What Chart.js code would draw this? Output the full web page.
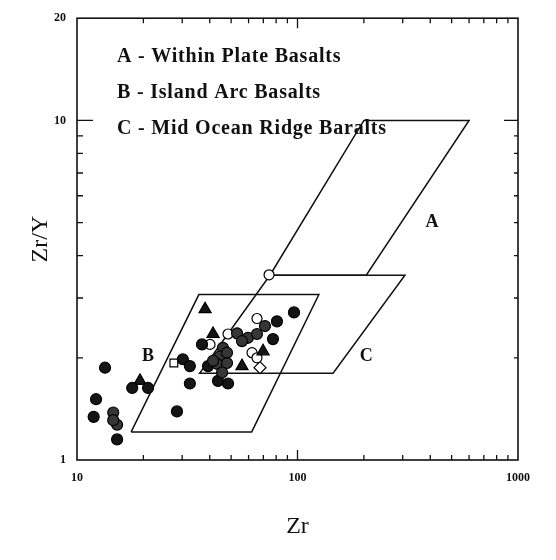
<!DOCTYPE html>
<html>
<head>
<meta charset="utf-8">
<script src="https://cdn.jsdelivr.net/npm/chart.js@4.4.1/dist/chart.umd.min.js"></script>
<style>
  body { margin: 0; background: #fff; }
  canvas { display: block; }
</style>
</head>
<body>
<canvas id="Chart" width="556" height="560"></canvas>
<script>
'use strict';
// ********************* DATA (Zr, Zr/Y) *********************

const fieldA = [[75, 3.5], [200, 10], [600, 10], [205, 3.5]];
const fieldB = [[17.6, 1.21], [62, 1.21], [125, 3.07], [35.7, 3.07]];
const fieldC = [[75, 3.5], [307, 3.5], [145, 1.8], [36, 1.8]];

const filledCircles = [
  [13.4, 1.87], [12.2, 1.51], [11.9, 1.34], [15.2, 1.15], [28.4, 1.39],
  [32.5, 1.68], [43.6, 1.71], [48.4, 1.68], [30.2, 1.98], [32.5, 1.89],
  [36.9, 2.19], [80.7, 2.56], [96.4, 2.72], [77.4, 2.27], [39.3, 1.89],
  [17.8, 1.63], [21.0, 1.63]
];
const stippledCircles = [
  [14.6, 1.38], [15.2, 1.27], [14.6, 1.31], [45.9, 2.14], [44.5, 2.02],
  [47.9, 2.07], [43.1, 1.92], [47.9, 1.93], [45.5, 1.81], [53.2, 2.36],
  [59.6, 2.29], [56.0, 2.24], [65.5, 2.35], [71.2, 2.48], [41.4, 1.96]
];
const filledTriangles = [
  [38.1, 2.78], [41.4, 2.35], [69.8, 2.09], [56.0, 1.89], [19.3, 1.71], [45.9, 2.01]
];
const openCircles = [
  [74.3, 3.51], [40.1, 2.19], [48.4, 2.35], [65.5, 2.61], [62.2, 2.07], [65.5, 2.0]
];
const openSquares = [[27.5, 1.93]];
const openDiamonds = [[67.6, 1.87]];

const xTickLabels = [10, 100, 1000];
const yTickLabels = [1, 10, 20];
const xMinorTicks = [20, 30, 40, 50, 60, 70, 80, 90, 100, 200, 300, 400, 500, 600, 700, 800, 900];
const yMinorTicks = [2, 3, 4, 5, 6, 7, 8, 9, 10];

const fieldLabels = [['A', 407, 5.0], ['B', 21, 2.02], ['C', 205, 2.02]];
const legendLines = [
  'A - Within Plate Basalts',
  'B - Island Arc Basalts',
  'C - Mid Ocean Ridge Baralts'
];

// ********************* HELPERS *********************

const SERIF = '"Liberation Serif", "Times New Roman", serif';

function toPoints(arr) {
  return arr.map(p => ({ x: p[0], y: p[1] }));
}

function fieldSet(arr) {
  const pts = toPoints(arr);
  pts.push(pts[0]);
  return {
    data: pts, showLine: true, fill: false, pointRadius: 0,
    borderColor: '#111', borderWidth: 1.5, order: 10
  };
}

function markerSet(arr, style, radius, bg) {
  return {
    data: toPoints(arr), showLine: false, pointStyle: style, pointRadius: radius,
    backgroundColor: bg, borderColor: '#000', borderWidth: 1.2, order: 1
  };
}

// frame, inward ticks and the text inside the plot
const frame = {
  id: 'frame',
  afterDatasetsDraw(chart) {
    const { ctx, chartArea: a, scales: { x, y } } = chart;
    ctx.save();
    ctx.strokeStyle = '#111';
    ctx.lineWidth = 1.6;
    ctx.strokeRect(a.left, a.top, a.right - a.left, a.bottom - a.top);
    ctx.lineWidth = 1.3;
    ctx.beginPath();
    xMinorTicks.forEach(v => {
      const px = x.getPixelForValue(v);
      const len = v === 100 ? 10 : 5;
      ctx.moveTo(px, a.bottom); ctx.lineTo(px, a.bottom - len);
      ctx.moveTo(px, a.top); ctx.lineTo(px, a.top + len);
    });
    yMinorTicks.forEach(v => {
      const py = y.getPixelForValue(v);
      ctx.moveTo(a.left, py); ctx.lineTo(a.left + (v === 10 ? 16 : 6), py);
      ctx.moveTo(a.right, py); ctx.lineTo(a.right - (v === 10 ? 14 : 4), py);
    });
    ctx.stroke();

    ctx.fillStyle = '#111';
    ctx.font = 'bold 18px ' + SERIF;
    ctx.textAlign = 'center';
    ctx.textBaseline = 'middle';
    fieldLabels.forEach(([t, zr, r]) => ctx.fillText(t, x.getPixelForValue(zr), y.getPixelForValue(r)));
    ctx.textAlign = 'left';
    ctx.font = 'bold 20px ' + SERIF;
    ctx.letterSpacing = '0.8px';
    legendLines.forEach((t, i) => ctx.fillText(t, 117, 57 + i * 36));
    ctx.restore();
  }
};

// ********************* CHART *********************

function renderChart() {
  const chartObj = {
    type: 'scatter',
    data: {
      datasets: [
        fieldSet(fieldA), fieldSet(fieldB), fieldSet(fieldC),
        markerSet(stippledCircles, 'circle', 5.5, '#363636'),
        markerSet(filledCircles, 'circle', 5.5, '#151515'),
        markerSet(filledTriangles, 'triangle', 7, '#151515'),
        markerSet(openCircles, 'circle', 5, '#fff'),
        markerSet(openSquares, 'rect', 5.5, '#fff'),
        markerSet(openDiamonds, 'rectRot', 6, '#fff')
      ]
    },
    options: {
      responsive: false,
      animation: false,
      devicePixelRatio: 1,
      layout: { padding: { left: 0, top: 14, right: 38, bottom: 0 } },
      plugins: { legend: { display: false }, tooltip: { enabled: false } },
      scales: {
        x: {
          type: 'logarithmic', min: 10, max: 1000,
          afterFit: s => { s.height = 100; },
          afterBuildTicks: s => { s.ticks = xTickLabels.map(v => ({ value: v })); },
          grid: { display: false, drawTicks: false },
          border: { display: false },
          ticks: {
            autoSkip: false, maxRotation: 0, padding: 11, color: '#111',
            font: { family: SERIF, size: 12, weight: 'bold' },
            callback: v => String(v)
          },
          title: {
            display: true, text: 'Zr', color: '#111',
            font: { family: SERIF, size: 24 },
            padding: { top: 0, bottom: 19 }
          }
        },
        y: {
          type: 'logarithmic', min: 1, max: 20,
          afterFit: s => { s.width = 77; },
          afterBuildTicks: s => { s.ticks = yTickLabels.map(v => ({ value: v })); },
          grid: { display: false, drawTicks: false },
          border: { display: false },
          ticks: {
            autoSkip: false, padding: 11, color: '#111',
            font: { family: SERIF, size: 12, weight: 'bold' },
            callback: v => String(v)
          },
          title: {
            display: true, text: 'Zr/Y', color: '#111',
            font: { family: SERIF, size: 24 },
            padding: { top: 26, bottom: 0 }
          }
        }
      }
    },
    plugins: [frame]
  };
  new Chart(document.getElementById('Chart'), chartObj);
}

renderChart();
</script>
</body>
</html>
